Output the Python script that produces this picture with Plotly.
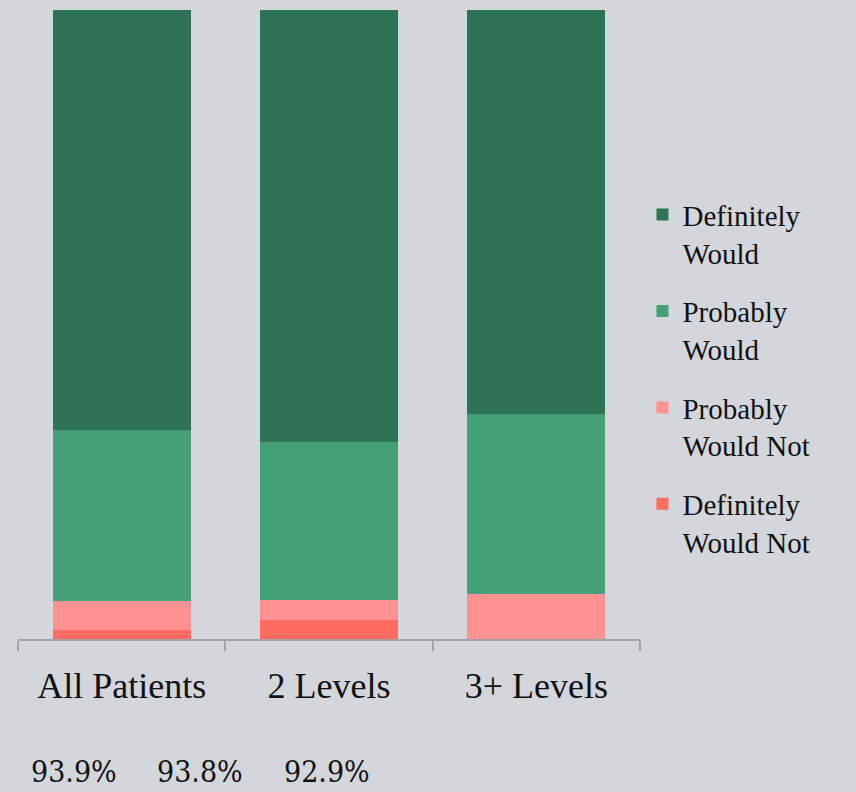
import plotly.graph_objects as go

categories = ["All Patients", "2 Levels", "3+ Levels"]
series_names = ["Definitely Would Not", "Probably Would Not", "Probably Would", "Definitely Would"]
legend_labels = ["Definitely<br>Would Not", "Probably<br>Would Not", "Probably<br>Would", "Definitely<br>Would"]
legend_ranks = [4, 3, 2, 1]
definitely_would_not = [1.5, 3.0, 0.0]
probably_would_not = [4.6, 3.2, 7.1]
probably_would = [27.2, 25.1, 28.6]
definitely_would = [66.7, 68.7, 64.3]
summary_labels = ["93.9%", "93.8%", "92.9%"]

values = [definitely_would_not, probably_would_not, probably_would, definitely_would]
colors = ["#FF6A61", "#FF9191", "#44A078", "#2E7356"]

SERIF = "Liberation Serif"
COND = "DejaVu Serif Condensed, Liberation Serif"

W, H = 856, 792
ML, MR, MT, MB = 18, 216, 10, 153
plot_w = W - ML - MR
plot_h = H - MT - MB

fig = go.Figure()
for name, lab, vals, col, rk in zip(series_names, legend_labels, values, colors, legend_ranks):
    fig.add_trace(go.Bar(
        x=categories, y=vals, name=lab, legendgroup=name, legendrank=rk,
        marker=dict(color=col, line=dict(width=0)),
        hoverinfo="name+y",
    ))

summary_px = [74, 200, 327]
for px, txt in zip(summary_px, summary_labels):
    fig.add_annotation(
        x=(px - ML) / plot_w, xref="paper",
        y=-(771 - (MT + plot_h)) / plot_h, yref="paper",
        text=txt, showarrow=False, xanchor="center", yanchor="middle",
        font=dict(family=COND, size=30, color="#111111"),
    )

bg = "#D3D6DA"
fig.update_layout(
    width=W, height=H,
    margin=dict(l=ML, r=MR, t=MT, b=MB),
    barmode="stack",
    bargap=0.335,
    paper_bgcolor=bg, plot_bgcolor=bg,
    font=dict(family=SERIF, color="#111111"),
    showlegend=True,
    legend=dict(
        x=1.004, xanchor="left", y=0.715, yanchor="top",
        traceorder="grouped", valign="top",
        font=dict(family=SERIF, size=29, color="#111111"),
        tracegroupgap=18, bgcolor="rgba(0,0,0,0)", itemwidth=30,
    ),
    xaxis=dict(
        range=[-0.5, 2.5], showgrid=False, zeroline=False,
        showline=True, linecolor="#A3A3A3", linewidth=2,
        ticks="outside", tickson="boundaries", ticklen=10, tickwidth=2, tickcolor="#A3A3A3",
        tickfont=dict(family=SERIF, size=36, color="#111111"),
        ticklabelstandoff=14,
    ),
    yaxis=dict(range=[0, 100], showgrid=False, zeroline=False, showticklabels=False, showline=False),
)

fig.write_html("out.html")
